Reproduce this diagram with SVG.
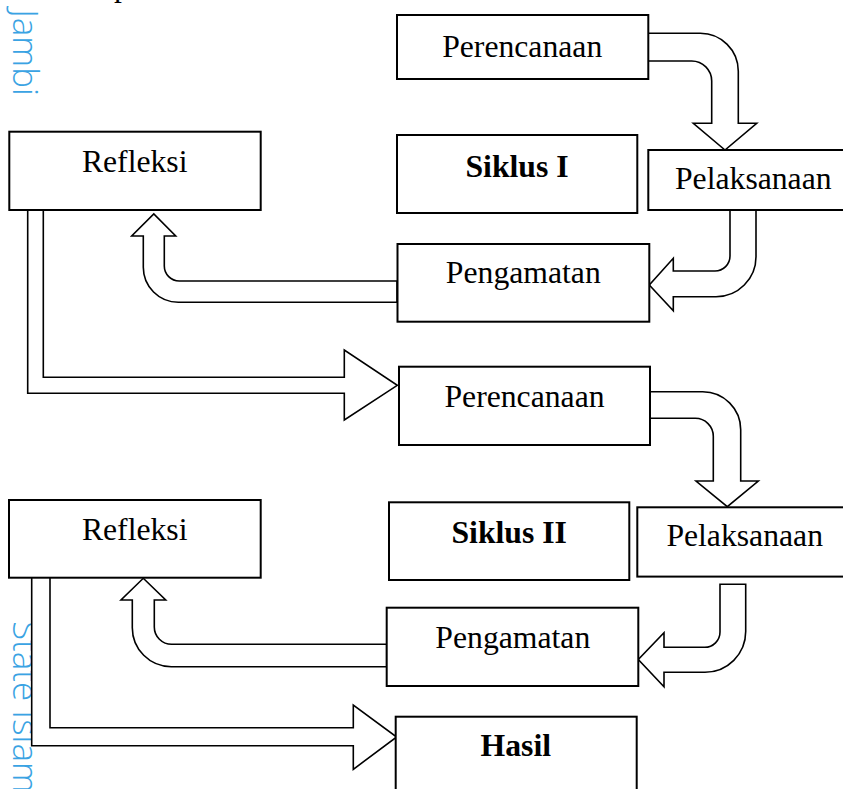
<svg xmlns="http://www.w3.org/2000/svg" width="843" height="789" viewBox="0 0 843 789">
<style>
.box{fill:#fff;stroke:#000;stroke-width:2}
.arr{fill:#fff;stroke:#000;stroke-width:1.6;stroke-linejoin:miter}
.lbl{font-family:"Liberation Serif","Times New Roman",serif;font-size:31.7px;fill:#000;text-anchor:middle}
.b{font-weight:bold}
.wm{font-family:"Open Sans","Noto Sans",sans-serif;font-size:35px;font-weight:300;fill:#3aa3e3}
</style>
<rect width="843" height="789" fill="#fff"/>
<g id="watermark">
<text class="wm" transform="translate(13,0) rotate(90)" x="96" y="0" text-anchor="end" font-size="37">Jambi</text>
<text class="wm" transform="translate(13,0) rotate(90)" x="621" y="0">State Islam</text>
</g>
<text class="lbl" x="122" y="-4" text-anchor="start">p</text>
<g id="connectors">
<path class="arr" d="M648,33.3 H700.3 A38,38 0 0 1 738.3,71.3 V123.3 H756.7 L725,150 L693.3,123.3 H711.7 V81 A20,20 0 0 0 691.7,61 H648 Z"/>
<path class="arr" d="M730,210 V256 A15,15 0 0 1 715,271 H673.3 V258.3 L649.3,285 L673.3,310.7 V296.7 H716 A40,40 0 0 0 756,256.7 V210 Z"/>
<path class="arr" d="M397,281 H179.3 A15,15 0 0 1 164.3,266 V236 H175.7 L153.8,214 L131.7,236 H143.3 V267.3 A35,35 0 0 0 178.3,302.3 H397 Z"/>
<path class="arr" d="M27.7,210 V393.3 H344.3 V420 L397.3,385.3 L344.3,350 V377.3 H43.3 V210 Z"/>
<path class="arr" d="M650,391.7 H702.7 A38,38 0 0 1 740.7,429.7 V481 H758.3 L727.3,506.7 L696,481 H713.3 V436.3 A18,18 0 0 0 695.3,418.3 H650 Z"/>
<path class="arr" d="M720,584.3 V632 A15.3,15.3 0 0 1 704.7,647.3 H664 V632.7 L638.3,659.5 L664,686.7 V672.3 H705 A40.7,40.7 0 0 0 745.7,631.6 V584.3 Z"/>
<path class="arr" d="M386.7,644.3 H171.7 A17.4,17.4 0 0 1 154.3,626.9 V600 H165.7 L143.3,578.3 L121,600 H132.3 V627.7 A39,39 0 0 0 171.3,666.7 H386.7 Z"/>
<path class="arr" d="M31.7,576.7 V745.7 H353.3 V769.3 L396.7,737 L353.3,705 V727.7 H50 V576.7 Z"/>
</g>
<g id="perencanaan1"><rect class="box" x="397" y="15" width="251.3" height="64"/><text class="lbl" x="522.2" y="57">Perencanaan</text></g>
<g id="siklus1"><rect class="box" x="397" y="135" width="240.3" height="78"/><text class="lbl b" x="517" y="176.7">Siklus I</text></g>
<g id="pelaksanaan1"><rect class="box" x="648.3" y="150" width="210" height="60"/><text class="lbl" x="753.3" y="189.3">Pelaksanaan</text></g>
<g id="pengamatan1"><rect class="box" x="397.5" y="244" width="251.8" height="77.7"/><text class="lbl" x="523.3" y="283.3">Pengamatan</text></g>
<g id="refleksi1"><rect class="box" x="9.3" y="131.7" width="251.4" height="78.3"/><text class="lbl" x="134.7" y="171.7">Refleksi</text></g>
<g id="perencanaan2"><rect class="box" x="399" y="366.7" width="251" height="78.3"/><text class="lbl" x="524.5" y="406.7">Perencanaan</text></g>
<g id="siklus2"><rect class="box" x="389" y="502.3" width="240.3" height="77.7"/><text class="lbl b" x="509.2" y="542.7">Siklus II</text></g>
<g id="pelaksanaan2"><rect class="box" x="637.3" y="507.3" width="220" height="69.3"/><text class="lbl" x="744.7" y="546.3">Pelaksanaan</text></g>
<g id="refleksi2"><rect class="box" x="9" y="500" width="251.7" height="77.7"/><text class="lbl" x="134.7" y="540">Refleksi</text></g>
<g id="pengamatan2"><rect class="box" x="386.7" y="607.7" width="251.6" height="78.3"/><text class="lbl" x="512.8" y="648.3">Pengamatan</text></g>
<g id="hasil"><rect class="box" x="395.7" y="716.7" width="241" height="90"/><text class="lbl b" x="515.8" y="756">Hasil</text></g>
</svg>
